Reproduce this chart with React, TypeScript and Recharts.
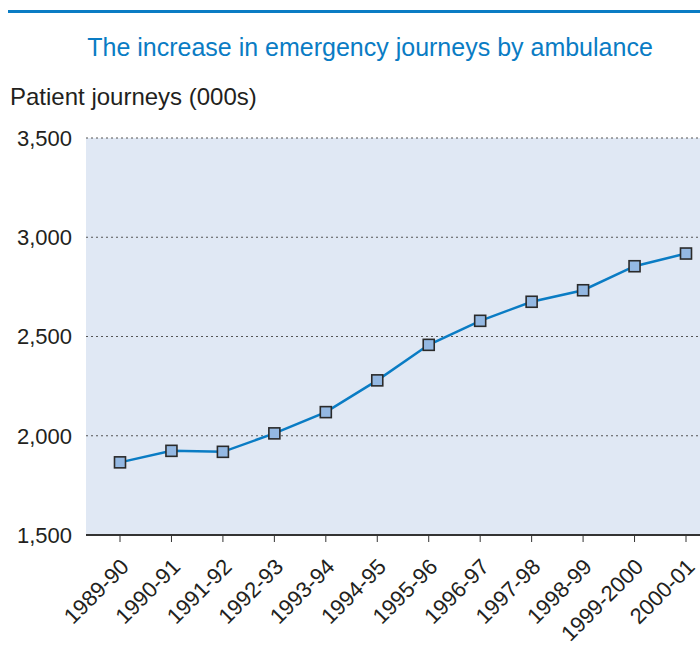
import React from 'react';
import { LineChart, Line, XAxis, YAxis, CartesianGrid } from 'recharts';

const categories = ['1989-90', '1990-91', '1991-92', '1992-93', '1993-94', '1994-95', '1995-96', '1996-97', '1997-98', '1998-99', '1999-2000', '2000-01'];
const journeys = [1866, 1924, 1919, 2012, 2119, 2279, 2458, 2579, 2675, 2733, 2854, 2918];
const yTicks = [1500, 2000, 2500, 3000, 3500];

const data = categories.map((c, i) => ({ year: c, journeys: journeys[i] }));

const FONT = '"Liberation Sans", Arial, Helvetica, sans-serif';
const BLUE = '#0a7cc4';
const TEXT = '#231f20';

const SquareDot = (props: any) => {
  const { cx, cy, index } = props;
  if (cx == null || cy == null) return null;
  return <rect key={`d${index}`} x={cx - 5.5} y={cy - 5.5} width={11} height={11} fill="#94b8e2" stroke="#2a2a2a" strokeWidth={1.6} />;
};

const XTick = (props: any) => {
  const { x, y, payload } = props;
  const ax = x - 1;
  const ay = y + 13;
  return (
    <text x={ax} y={ay} dy="0.72em" transform={`rotate(-45 ${ax} ${ay})`} textAnchor="end" fontSize={22} fill={TEXT} fontFamily={FONT}>
      {payload.value}
    </text>
  );
};

export default function App() {
  return (
    <div style={{ position: 'absolute', left: 0, top: 0, width: 700, height: 661, overflow: 'hidden', background: '#fff', fontFamily: FONT }}>
      <div style={{ position: 'absolute', left: 8, top: 10, width: 692, height: 3, background: BLUE }} />
      <div style={{ position: 'absolute', left: 0, width: 740, top: 32, textAlign: 'center', fontSize: 25, lineHeight: '30px', color: BLUE, whiteSpace: 'nowrap' }}>
        The increase in emergency journeys by ambulance
      </div>
      <div style={{ position: 'absolute', left: 10, top: 83, fontSize: 24, lineHeight: '28px', color: TEXT, whiteSpace: 'nowrap' }}>
        Patient journeys (000s)
      </div>
      <div style={{ position: 'absolute', left: 0, top: 0 }}>
        <LineChart width={730} height={661} data={data} margin={{ top: 138, right: 16, left: 0, bottom: 0 }}>
          <CartesianGrid vertical={false} stroke="#555" strokeDasharray="2 3" fill="#e0e8f4" />
          <XAxis
            dataKey="year"
            interval={0}
            padding={{ left: 34, right: 28 }}
            axisLine={{ stroke: '#333', strokeWidth: 2 }}
            tickLine={{ stroke: '#333', strokeWidth: 1 }}
            tickSize={7}
            tick={<XTick />}
            height={126}
          />
          <YAxis
            domain={[1500, 3500]}
            ticks={yTicks}
            width={86}
            axisLine={false}
            tickLine={false}
            tickSize={0}
            tickMargin={14}
            tick={{ fontSize: 22, fill: TEXT, fontFamily: FONT }}
            tickFormatter={(v: number) => v.toLocaleString('en-US')}
          />
          <Line
            type="linear"
            dataKey="journeys"
            stroke={BLUE}
            strokeWidth={2.5}
            dot={<SquareDot />}
            activeDot={false}
            isAnimationActive={false}
          />
        </LineChart>
      </div>
    </div>
  );
}
